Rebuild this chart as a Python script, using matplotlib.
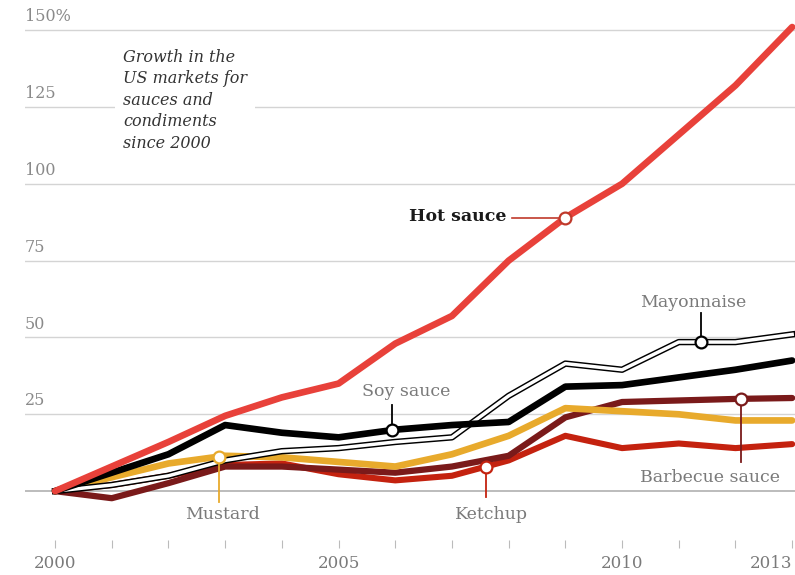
import numpy as np
import matplotlib
matplotlib.use("Agg")
import matplotlib.pyplot as plt

plt.rcParams["font.family"] = ["DejaVu Serif"]

years = list(range(2000, 2014))
hot_sauce = [0, 8, 16, 24.5, 30.5, 35, 48, 57, 75, 89, 100, 116, 132, 151]
soy_sauce = [0, 6, 12, 21.5, 19, 17.5, 20, 21.5, 22.5, 34, 34.5, 37, 39.5, 42.5]
mayonnaise = [0, 2, 5, 10, 13, 14, 16, 17.5, 31, 41.5, 39.5, 48.5, 48.5, 51]
mustard = [0, 4.5, 9, 11.5, 11, 9.5, 8, 12, 18, 27, 26, 25, 23, 23]
barbecue = [0, -2.3, 2.6, 8, 8, 7, 6, 8, 11.5, 24, 29, 29.5, 30, 30.3]
ketchup = [0, 2, 5, 8.5, 9, 5.5, 3.5, 5, 10, 18, 14, 15.5, 14, 15.3]

y_grid = [25, 50, 75, 100, 125, 150]
y_labels = ["25", "50", "75", "100", "125", "150%"]
x_major = [2000, 2005, 2010, 2013]

RED = "#e8413a"
GOLD = "#e8aa2c"
MAROON = "#7a1a1a"
KETCHUP = "#c4220f"
GREY = "#7a7a7a"

fig = plt.figure(figsize=(7.95, 5.75), dpi=100)
ax = fig.add_axes([25 / 795, 35 / 575, 770 / 795, 540 / 575])
ax.set_xlim(1999.47, 2013.05)
ax.set_ylim(-15.9, 159.8)

for v, lab in zip(y_grid, y_labels):
    ax.axhline(v, color="#d4d4d4", lw=1, zorder=0)
    ax.text(1999.47, v + 1.6, lab, ha="left", va="bottom", color="#8a8a8a", fontsize=11.5)
ax.axhline(0, color="#b0b0b0", lw=1.2, zorder=0)

# lines, back to front
ax.plot(years, ketchup, color=KETCHUP, lw=4.4, solid_capstyle="round", zorder=2)
ax.plot(years, barbecue, color=MAROON, lw=4.5, solid_capstyle="round", zorder=2)
ax.plot(years, mustard, color=GOLD, lw=4.8, solid_capstyle="round", zorder=3)
ax.plot(years, mayonnaise, color="black", lw=4.6, zorder=3)
ax.plot(years, mayonnaise, color="white", lw=2.5, zorder=3)
ax.plot(years, soy_sauce, color="black", lw=4.8, solid_capstyle="round", zorder=4)
ax.plot(years, hot_sauce, color=RED, lw=4.8, solid_capstyle="round", zorder=5)


def callout(series, x, color, text, tx, ty, ly, bold=False, tcolor=GREY, horiz=False):
    y = np.interp(x, years, series)
    if horiz:
        ax.plot([tx, x], [y, y], color=color, lw=1.2, zorder=6)
    else:
        ax.plot([x, x], [y, ly], color=color, lw=1.3, zorder=6)
    ax.plot([x], [y], "o", ms=8.5, mfc="white", mec=color, mew=1.6, zorder=7)
    ax.text(tx if not horiz else tx - 0.1, ty, text, color=tcolor, fontsize=12.5,
            fontweight="bold" if bold else "normal",
            ha="center" if not horiz else "right", va="center", zorder=7)


callout(hot_sauce, 2009.0, "#c0392b", "Hot sauce", 2008.06, 89.5, None, bold=True,
        tcolor="#1a1a1a", horiz=True)
callout(mayonnaise, 2011.4, "black", "Mayonnaise", 2011.25, 61.5, 58)
callout(soy_sauce, 2005.95, "black", "Soy sauce", 2006.2, 32.5, 28)
callout(mustard, 2002.9, GOLD, "Mustard", 2002.95, -7.5, -3.5)
callout(ketchup, 2007.6, KETCHUP, "Ketchup", 2007.7, -7.5, -2)
callout(barbecue, 2012.1, MAROON, "Barbecue sauce", 2011.55, 4.5, 9.5)

ax.text(2001.2, 144, "Growth in the\nUS markets for\nsauces and\ncondiments\nsince 2000",
        style="italic", fontsize=11.5, color="#333333", ha="left", va="top",
        linespacing=1.35, zorder=6,
        bbox=dict(facecolor="white", edgecolor="none", pad=6))

ax.set_xticks(years)
ax.set_xticklabels([str(y) if y in x_major else "" for y in years])
ax.tick_params(axis="x", length=6, width=0.8, color="#bbbbbb", labelcolor="#7a7a7a",
               labelsize=12, pad=5)
ax.get_xticklabels()[-1].set_ha("right")
ax.set_yticks([])
for s in ax.spines.values():
    s.set_visible(False)

fig.savefig("out.png", dpi=100)
